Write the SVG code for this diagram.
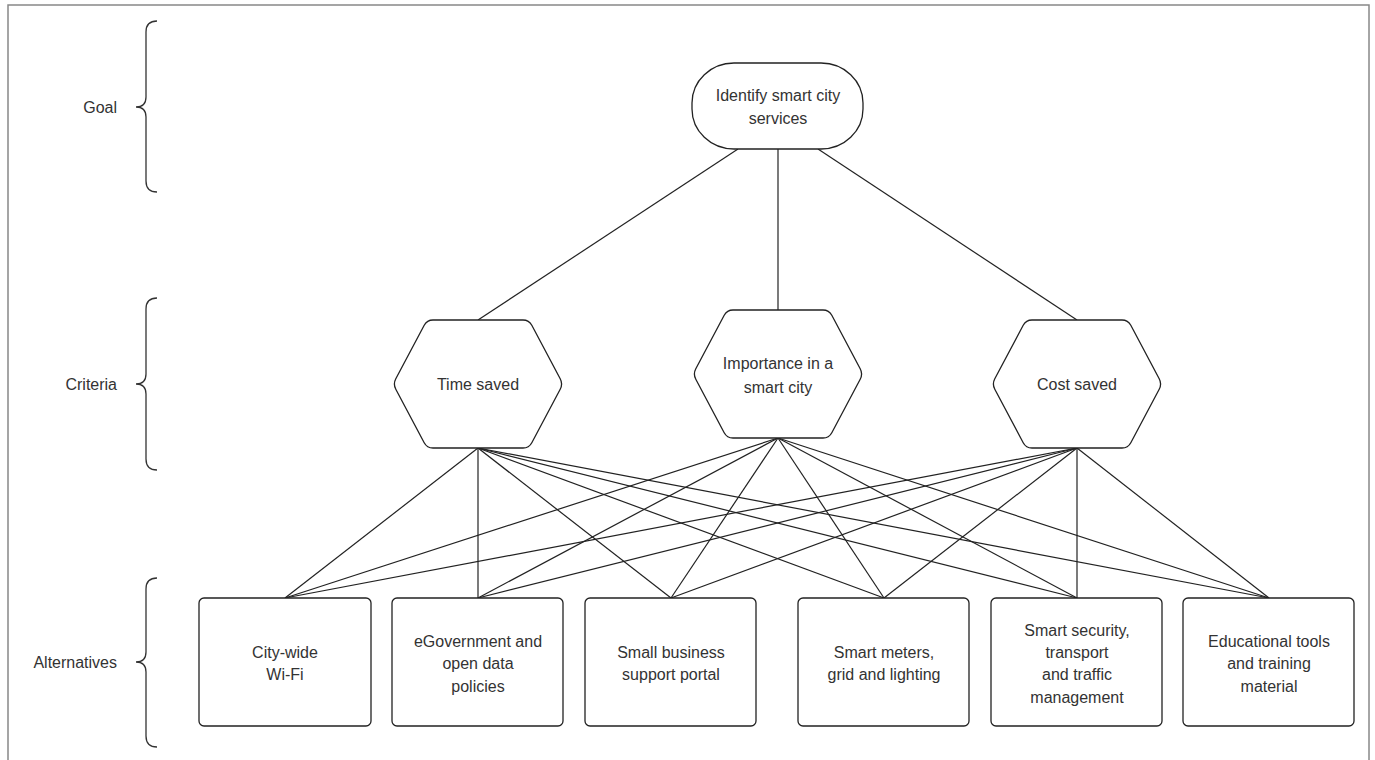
<svg xmlns="http://www.w3.org/2000/svg" width="1375" height="760" viewBox="0 0 1375 760">
<style>
.t{font-family:"Liberation Sans",Arial,sans-serif;font-size:16px;fill:#333;text-anchor:middle;dominant-baseline:central}
.lbl{font-family:"Liberation Sans",Arial,sans-serif;font-size:16px;fill:#333;text-anchor:end;dominant-baseline:central}
.shape{fill:#fff;stroke:#222;stroke-width:1.3}
.brace{fill:none;stroke:#333;stroke-width:1.3}
.conn line{stroke:#222;stroke-width:1.2}
</style>
<defs>
<path id="hex" d="M-82.2,-5.3 L-53.8,-58.7 Q-51,-64 -45,-64 L45,-64 Q51,-64 53.8,-58.7 L82.2,-5.3 Q85,0 82.2,5.3 L53.8,58.7 Q51,64 45,64 L-45,64 Q-51,64 -53.8,58.7 L-82.2,5.3 Q-85,0 -82.2,-5.3 Z"/>
</defs>
<rect x="0" y="0" width="1375" height="760" fill="#fff"/>
<rect x="8" y="5" width="1361" height="780" fill="none" stroke="#888" stroke-width="1.5"/>

<g id="levels">
<path class="brace" d="M157,21 Q146,21 146,32 L146,97 Q146,107 136,107 Q146,107 146,117 L146,181 Q146,192 157,192"/>
<text class="lbl" x="117" y="107">Goal</text>
<path class="brace" d="M157,298 Q146,298 146,309 L146,374 Q146,384 136,384 Q146,384 146,394 L146,459 Q146,470 157,470"/>
<text class="lbl" x="117" y="384">Criteria</text>
<path class="brace" d="M157,578 Q146,578 146,589 L146,652 Q146,662 136,662 Q146,662 146,672 L146,736 Q146,747 157,747"/>
<text class="lbl" x="117" y="662">Alternatives</text>
</g>

<g id="connectors" class="conn">
<line x1="738" y1="149" x2="478" y2="320"/>
<line x1="778" y1="149" x2="778" y2="310"/>
<line x1="818" y1="149" x2="1077" y2="320"/>
<line x1="478" y1="448" x2="285" y2="598"/>
<line x1="478" y1="448" x2="478" y2="598"/>
<line x1="478" y1="448" x2="671" y2="598"/>
<line x1="478" y1="448" x2="884" y2="598"/>
<line x1="478" y1="448" x2="1077" y2="598"/>
<line x1="478" y1="448" x2="1269" y2="598"/>
<line x1="778" y1="438" x2="285" y2="598"/>
<line x1="778" y1="438" x2="478" y2="598"/>
<line x1="778" y1="438" x2="671" y2="598"/>
<line x1="778" y1="438" x2="884" y2="598"/>
<line x1="778" y1="438" x2="1077" y2="598"/>
<line x1="778" y1="438" x2="1269" y2="598"/>
<line x1="1077" y1="448" x2="285" y2="598"/>
<line x1="1077" y1="448" x2="478" y2="598"/>
<line x1="1077" y1="448" x2="671" y2="598"/>
<line x1="1077" y1="448" x2="884" y2="598"/>
<line x1="1077" y1="448" x2="1077" y2="598"/>
<line x1="1077" y1="448" x2="1269" y2="598"/>
</g>

<g id="goal">
<rect class="shape" x="692" y="63" width="171" height="86" rx="42" ry="40"/>
<text class="t" x="778" y="95">Identify smart city</text>
<text class="t" x="778" y="118">services</text>
</g>

<g id="crit-time">
<use href="#hex" class="shape" transform="translate(478,384)"/>
<text class="t" x="478" y="384">Time saved</text>
</g>
<g id="crit-importance">
<use href="#hex" class="shape" transform="translate(778,374)"/>
<text class="t" x="778" y="363">Importance in a</text>
<text class="t" x="778" y="387">smart city</text>
</g>
<g id="crit-cost">
<use href="#hex" class="shape" transform="translate(1077,384)"/>
<text class="t" x="1077" y="384">Cost saved</text>
</g>

<g id="alt-wifi">
<rect class="shape" x="199" y="598" width="172" height="128" rx="5"/>
<text class="t" x="285" y="652">City-wide</text>
<text class="t" x="285" y="674">Wi-Fi</text>
</g>
<g id="alt-egov">
<rect class="shape" x="392" y="598" width="171" height="128" rx="5"/>
<text class="t" x="478" y="641">eGovernment and</text>
<text class="t" x="478" y="663">open data</text>
<text class="t" x="478" y="686">policies</text>
</g>
<g id="alt-business">
<rect class="shape" x="585" y="598" width="171" height="128" rx="5"/>
<text class="t" x="671" y="652">Small business</text>
<text class="t" x="671" y="674">support portal</text>
</g>
<g id="alt-meters">
<rect class="shape" x="798" y="598" width="171" height="128" rx="5"/>
<text class="t" x="884" y="652">Smart meters,</text>
<text class="t" x="884" y="674">grid and lighting</text>
</g>
<g id="alt-security">
<rect class="shape" x="991" y="598" width="171" height="128" rx="5"/>
<text class="t" x="1077" y="630">Smart security,</text>
<text class="t" x="1077" y="652">transport</text>
<text class="t" x="1077" y="674">and traffic</text>
<text class="t" x="1077" y="697">management</text>
</g>
<g id="alt-education">
<rect class="shape" x="1183" y="598" width="171" height="128" rx="5"/>
<text class="t" x="1269" y="641">Educational tools</text>
<text class="t" x="1269" y="663">and training</text>
<text class="t" x="1269" y="686">material</text>
</g>
</svg>
